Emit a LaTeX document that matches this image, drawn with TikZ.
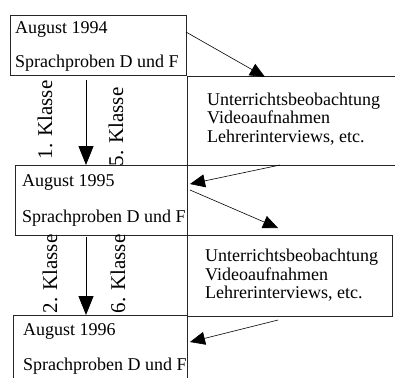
\documentclass[tikz,border=0pt]{standalone}
\usepackage{fontspec}
\setmainfont{Liberation Serif}
\usepackage{tikz}
\usetikzlibrary{arrows.meta}
\usetikzlibrary{positioning}
\tikzstyle{yearbox}=[draw=black!85,line width=1pt,rectangle,anchor=north west,inner sep=0pt,outer sep=0pt]
\tikzstyle{yeartext}=[anchor=west,align=left,inner sep=0pt]
\tikzstyle{obstext}=[anchor=west,align=left,inner sep=0pt,font=\fontsize{18}{18.5}\selectfont]
\tikzstyle{klasse}=[rotate=90,inner sep=0pt,font=\fontsize{21}{21}\selectfont]
\tikzstyle{down}=[-{Triangle[width=15pt,length=19pt]},line width=0.8pt]
\tikzstyle{side}=[-{Triangle[width=13pt,length=15pt]},line width=0.6pt]

\begin{document}
\begin{tikzpicture}[x=1pt,y=-1pt]
\useasboundingbox (0,0) rectangle (395,377);
% Jahresboxen
\node [yearbox,minimum width=176pt,minimum height=60pt] (j94) at (10,16) {};
\node [yearbox,minimum width=172pt,minimum height=70pt] (j95) at (15,165) {};
\node [yearbox,minimum width=174pt,minimum height=67pt] (j96) at (13,315) {};
\node [yeartext,font=\fontsize{18}{34}\selectfont] (t94) at ([xshift=5pt]j94.west) {August 1994\\Sprachproben D und F};
\node [yeartext,font=\fontsize{18}{36}\selectfont] (t95) at ([xshift=7pt]j95.west) {August 1995\\Sprachproben D und F};
\node [yeartext,font=\fontsize{18}{35}\selectfont] (t96) at ([xshift=10pt]j96.west) {August 1996\\Sprachproben D und F};
% Beobachtungen
\node [yearbox,minimum width=211pt,minimum height=88pt] (obs1) at (187,77) {};
\node [yearbox,minimum width=205pt,minimum height=81pt] (obs2) at (187,235) {};
\node [obstext] (to1) at ([xshift=20pt,yshift=2pt]obs1.west) {Unterrichtsbeobachtung\\Videoaufnahmen\\Lehrerinterviews, etc.};
\node [obstext] (to2) at ([xshift=18pt]obs2.west) {Unterrichtsbeobachtung\\Videoaufnahmen\\Lehrerinterviews, etc.};
% Klassen
\node [klasse] (k1) at (45,120) {1. Klasse};
\node [klasse] (k5) at (116,127) {5. Klasse};
\node [klasse] (k2) at (50,274) {2. Klasse};
\node [klasse] (k6) at (118,274) {6. Klasse};
% Pfeile
\draw [down] ([xshift=76pt,yshift=-4pt]j94.south west) -- ([xshift=71pt]j95.north west);
\draw [down] ([xshift=71pt,yshift=-2pt]j95.south west) -- ([xshift=73pt]j96.north west);
\draw [side] ([yshift=-16pt]j94.north east) -- ([xshift=78pt]obs1.north west);
\draw [side] ([xshift=93pt]obs1.south west) -- ([xshift=3pt,yshift=-19pt]j95.north east);
\draw [side] ([xshift=3pt,yshift=-25pt]j95.north east) -- ([xshift=91pt,yshift=7pt]obs2.north west);
\draw [side] ([xshift=91pt,yshift=-4pt]obs2.south west) -- ([xshift=3pt,yshift=-27pt]j96.north east);
\end{tikzpicture}
\end{document}
